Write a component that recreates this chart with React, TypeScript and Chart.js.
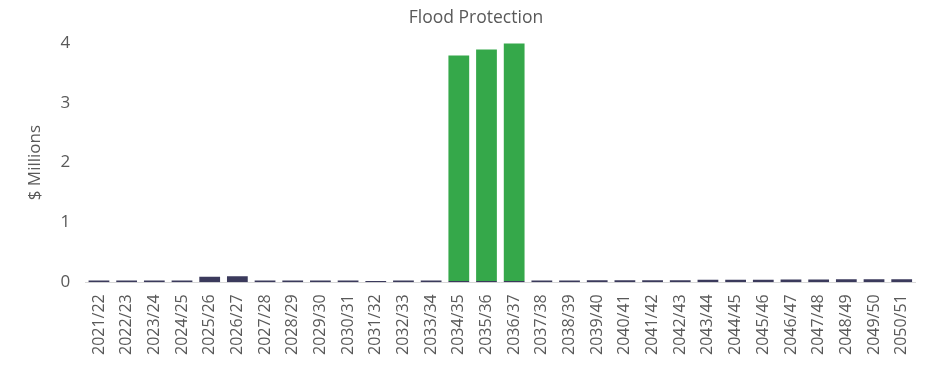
import React, { useEffect, useRef } from "react";
import { Chart, registerables } from "chart.js";

Chart.register(...registerables);

const categories = [
  "2021/22", "2022/23", "2023/24", "2024/25", "2025/26", "2026/27", "2027/28", "2028/29",
  "2029/30", "2030/31", "2031/32", "2032/33", "2033/34", "2034/35", "2035/36", "2036/37",
  "2037/38", "2038/39", "2039/40", "2040/41", "2041/42", "2042/43", "2043/44", "2044/45",
  "2045/46", "2046/47", "2047/48", "2048/49", "2049/50", "2050/51",
];

const renewals = [
  0.03, 0.03, 0.03, 0.03, 0.09, 0.1, 0.03, 0.03,
  0.03, 0.03, 0.02, 0.03, 0.03, 0.02, 0.02, 0.02,
  0.03, 0.03, 0.035, 0.035, 0.035, 0.035, 0.04, 0.04,
  0.04, 0.045, 0.045, 0.05, 0.05, 0.05,
];

const newWorks = [
  0, 0, 0, 0, 0, 0, 0, 0,
  0, 0, 0, 0, 0, 3.77, 3.87, 3.97,
  0, 0, 0, 0, 0, 0, 0, 0,
  0, 0, 0, 0, 0, 0,
];

const yTicks = [0, 1, 2, 3, 4];

const FONT = "'Open Sans', 'Liberation Sans', sans-serif";
const TEXT = "#595959";
const FS = 17;

export default function App() {
  const ref = useRef<HTMLCanvasElement | null>(null);

  useEffect(() => {
    document.body.style.margin = "0";
    const canvas = ref.current;
    if (!canvas) return;
    const chart = new Chart(canvas, {
      type: "bar",
      data: {
        labels: categories,
        datasets: [
          {
            label: "Renewals",
            data: renewals,
            backgroundColor: "#3b3a5c",
            barPercentage: 0.75,
            categoryPercentage: 1,
          },
          {
            label: "New Works",
            data: newWorks,
            backgroundColor: "#35a84a",
            barPercentage: 0.75,
            categoryPercentage: 1,
          },
        ],
      },
      options: {
        animation: false,
        responsive: false,
        maintainAspectRatio: false,
        layout: { padding: { left: 25, right: 6, top: 0, bottom: 0 } },
        plugins: {
          legend: { display: false },
          tooltip: { enabled: false },
          title: {
            display: true,
            text: "Flood Protection",
            color: TEXT,
            font: { family: FONT, size: 17.5, weight: "normal" },
            padding: { top: 8, bottom: 14 },
          },
        },
        scales: {
          x: {
            stacked: true,
            grid: { display: false, drawTicks: false },
            border: { display: true, color: "#d9d9d9" },
            ticks: {
              color: TEXT,
              font: { family: FONT, size: 16 },
              maxRotation: 90,
              minRotation: 90,
              autoSkip: false,
              padding: 12,
            },
          },
          y: {
            stacked: true,
            min: 0,
            max: 4,
            afterBuildTicks: (axis: any) => {
              axis.ticks = yTicks.map((v) => ({ value: v }));
            },
            grid: { display: false, drawTicks: false },
            border: { display: false },
            ticks: {
              color: TEXT,
              font: { family: FONT, size: FS },
              padding: 15,
            },
            title: {
              display: true,
              text: "$ Millions",
              color: TEXT,
              font: { family: FONT, size: FS, weight: "normal" },
              padding: { top: 0, bottom: 0 },
            },
          },
        },
      },
    });
    return () => chart.destroy();
  }, []);

  return (
    <div style={{ width: 933, height: 367 }}>
      <canvas ref={ref} width={933} height={367} />
    </div>
  );
}
